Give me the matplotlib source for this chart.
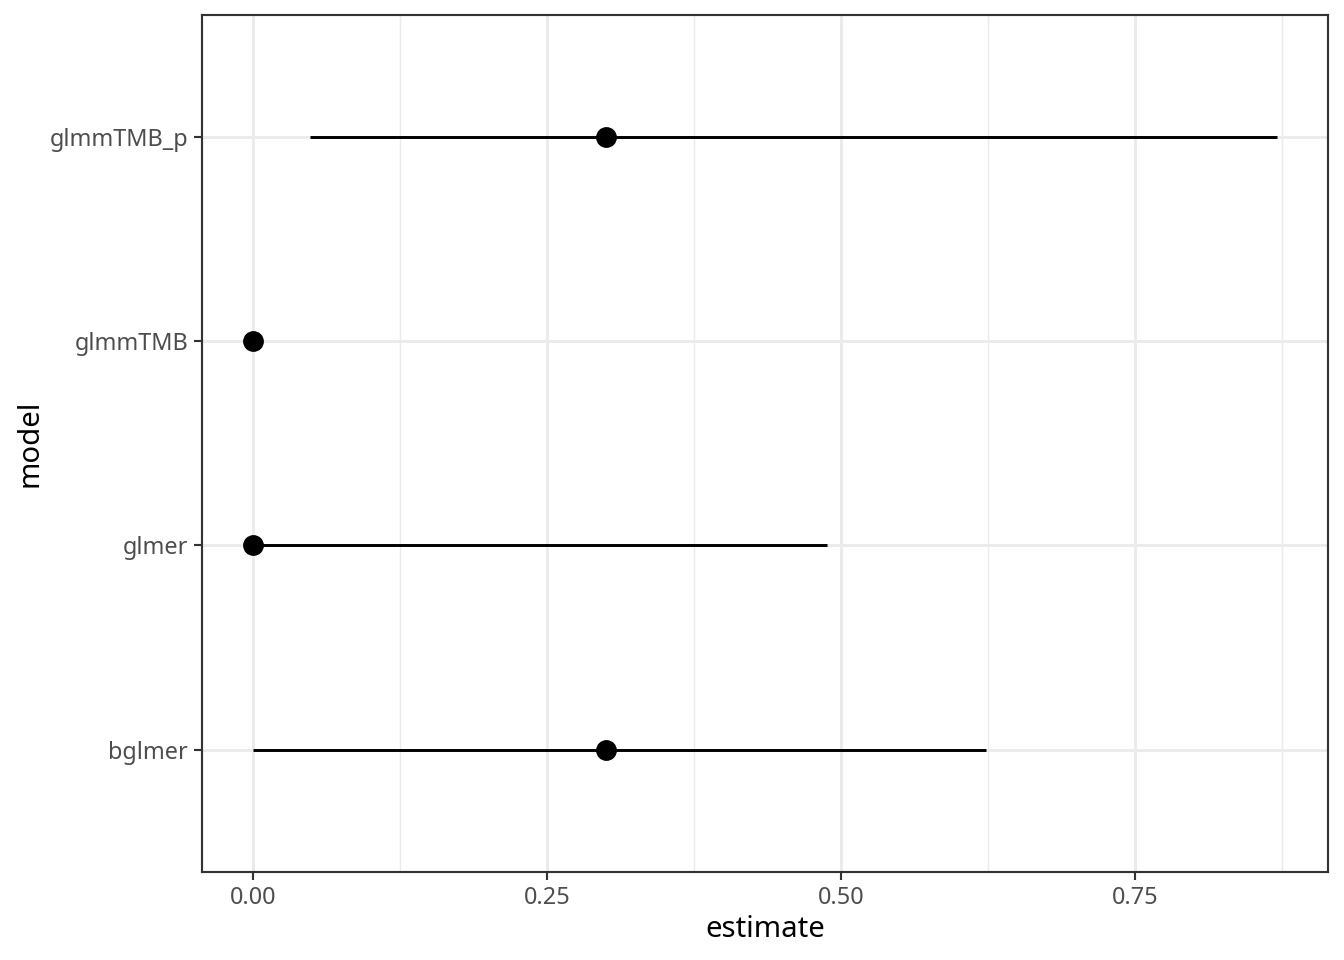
import numpy as np
import matplotlib.pyplot as plt

plt.rcParams['font.family'] = ['Noto Sans', 'DejaVu Sans']

models = ['bglmer', 'glmer', 'glmmTMB', 'glmmTMB_p']
estimate = [0.300, 0.0, 0.0, 0.300]
conf_low = [0.0, 0.0, np.nan, 0.0485]
conf_high = [0.623, 0.488, np.nan, 0.871]
xticks = [0.0, 0.25, 0.50, 0.75]
xtick_labels = ['0.00', '0.25', '0.50', '0.75']

fig = plt.figure(figsize=(7, 5), dpi=192)
ax = fig.add_axes([0.1503, 0.0917, 0.9881 - 0.1503, 0.9844 - 0.0917])

ypos = np.arange(1, len(models) + 1)

# grid (theme_bw style)
for xv in xticks:
    ax.axvline(xv, color='#EBEBEB', lw=1.1, zorder=0)
for xv in [0.125, 0.375, 0.625, 0.875]:
    ax.axvline(xv, color='#EBEBEB', lw=0.55, zorder=0)
for yv in ypos:
    ax.axhline(yv, color='#EBEBEB', lw=1.1, zorder=0)

# point ranges
for y, est, lo, hi in zip(ypos, estimate, conf_low, conf_high):
    if not np.isnan(lo):
        ax.plot([lo, hi], [y, y], color='black', lw=1.1, solid_capstyle='butt', zorder=2)
    ax.plot(est, y, 'o', color='black', markersize=6.8, zorder=3)

ax.set_xlim(-0.0434, 0.914)
ax.set_ylim(0.4, 4.6)
ax.set_xticks(xticks)
ax.set_xticklabels(xtick_labels)
ax.set_yticks(ypos)
ax.set_yticklabels(models)

for s in ax.spines.values():
    s.set_color('#333333')
    s.set_linewidth(0.8)

ax.tick_params(axis='both', colors='#333333', width=0.8, length=3.0,
               labelsize=8.8, labelcolor='#4D4D4D', pad=2.2)

ax.set_xlabel('estimate', fontsize=11, color='black', labelpad=2)
ax.set_ylabel('model', fontsize=11, color='black', labelpad=2)

fig.savefig('out.png', dpi=192, facecolor='white')
